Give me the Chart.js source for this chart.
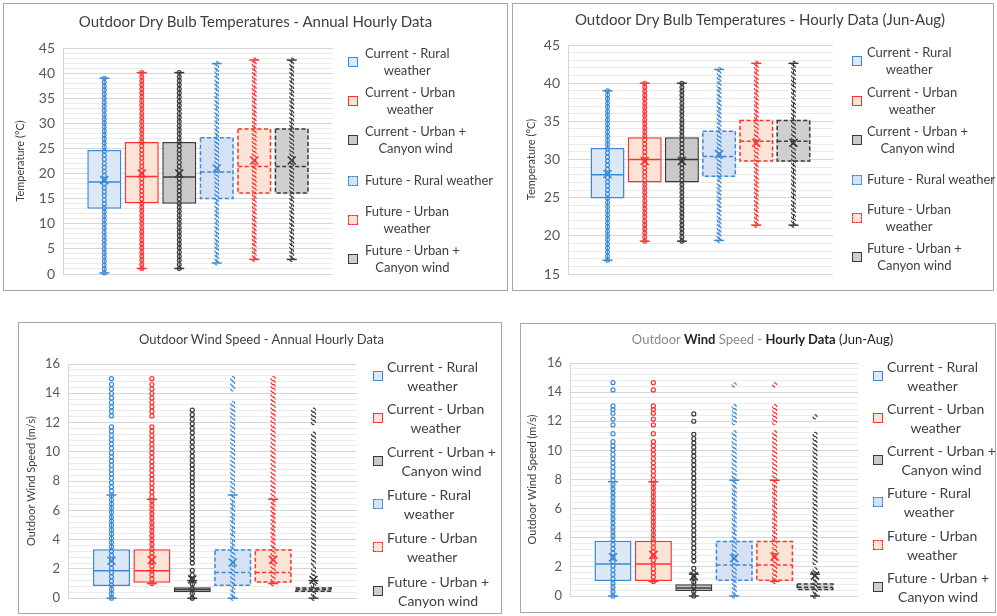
<!DOCTYPE html>
<html><head><meta charset="utf-8">
<script src="https://cdn.jsdelivr.net/npm/chart.js@4/dist/chart.umd.min.js"></script>
<style>
html,body{margin:0;padding:0;background:#fff;width:997px;height:616px;overflow:hidden;font-family:Lato,'Open Sans',sans-serif;}
.panel{position:absolute;border:1px solid #a6a6a6;box-sizing:border-box;background:#fff;}
.panel canvas{position:absolute;left:-1px;top:-1px;}
.ptitle{position:absolute;left:0;width:100%;text-align:center;color:#404040;white-space:nowrap;box-sizing:border-box;}
.leg{position:absolute;display:flex;align-items:center;color:#404040;}
.leg .ic{width:8px;height:8px;border:1.5px solid;flex:none;}
.leg .tx{text-align:center;white-space:pre;}
</style></head><body>

<div class="panel" id="p1" style="left:3px;top:3px;width:505px;height:288px;">
  <canvas id="c1"></canvas>
  <div class="ptitle" style="top:9px;font-size:15px;line-height:17px;">Outdoor Dry Bulb Temperatures - Annual Hourly Data</div>
</div>
<div class="panel" id="p2" style="left:512px;top:3px;width:482px;height:288px;">
  <canvas id="c2"></canvas>
  <div class="ptitle" style="top:7px;font-size:15px;line-height:17px;padding-left:14px;">Outdoor Dry Bulb Temperatures - Hourly Data (Jun-Aug)</div>
</div>
<div class="panel" id="p3" style="left:18px;top:322px;width:484px;height:292px;">
  <canvas id="c3"></canvas>
  <div class="ptitle" style="top:8px;font-size:13px;line-height:16px;padding-left:3px;">Outdoor Wind Speed - Annual Hourly Data</div>
</div>
<div class="panel" id="p4" style="left:520px;top:323px;width:476px;height:290px;">
  <canvas id="c4"></canvas>
  <div class="ptitle" style="top:7px;font-size:13px;line-height:16px;padding-left:9px;"><span style="color:#8a8a8a">Outdoor </span><b style="color:#262626">Wind</b><span style="color:#8a8a8a"> Speed - </span><b style="color:#262626">Hourly Data</b><span style="color:#262626"> (Jun-Aug)</span></div>
</div>

<script>
// ---------------- DATA ----------------
const seriesNames = ['Current - Rural weather','Current - Urban weather','Current - Urban + Canyon wind','Future - Rural weather','Future - Urban weather','Future - Urban + Canyon wind'];
const legendLabelsTop = ['Current - Rural\nweather','Current - Urban\nweather','Current - Urban +\nCanyon wind','Future - Rural weather','Future - Urban\nweather','Future - Urban +\nCanyon wind'];
const legendLabelsBottom = ['Current - Rural\nweather','Current - Urban\nweather','Current - Urban +\nCanyon wind','Future - Rural\nweather','Future - Urban\nweather','Future - Urban +\nCanyon wind'];

// Outdoor dry bulb temperature, annual hourly data (°C)
const tAnnQ1   = [13.0, 14.1, 14.0, 14.9, 16.0, 16.0];
const tAnnMed  = [18.3, 19.4, 19.3, 20.3, 21.4, 21.4];
const tAnnQ3   = [24.7, 26.3, 26.3, 27.3, 29.0, 29.0];
const tAnnMean = [18.7, 20.0, 20.0, 21.0, 22.6, 22.6];
const tAnnMin  = [0.2, 1.1, 1.1, 2.2, 2.9, 2.9];
const tAnnMax  = [39.0, 40.1, 40.1, 41.9, 42.6, 42.6];

// Outdoor dry bulb temperature, hourly data Jun-Aug (°C)
const tJjaQ1   = [24.9, 27.0, 27.0, 27.7, 29.7, 29.7];
const tJjaMed  = [28.0, 30.0, 30.0, 30.4, 32.4, 32.4];
const tJjaQ3   = [31.5, 32.9, 32.9, 33.8, 35.2, 35.2];
const tJjaMean = [28.1, 29.8, 29.8, 30.7, 32.2, 32.2];
const tJjaMin  = [16.8, 19.3, 19.3, 19.4, 21.4, 21.4];
const tJjaMax  = [39.0, 40.0, 40.0, 41.8, 42.6, 42.6];

// Outdoor wind speed, annual hourly data (m/s)
const wAnnQ1   = [0.83, 1.05, 0.42, 0.83, 1.05, 0.42];
const wAnnMed  = [1.88, 1.88, 0.60, 1.76, 1.76, 0.60];
const wAnnQ3   = [3.34, 3.34, 0.75, 3.34, 3.34, 0.75];
const wAnnMean = [2.56, 2.60, 1.29, 2.44, 2.62, 1.24];
const wAnnLo   = [0.0, 1.0, 0.0, 0.0, 1.0, 0.0];
const wAnnHi   = [7.05, 6.76, 1.2, 7.05, 6.76, 1.2];
// observed value ranges where hourly points are stacked
const wAnnPoints = [
  [[0, 11.7], [12.45, 14.6], [15.0, 15.0]],
  [[1.0, 11.7], [12.45, 14.6], [15.0, 15.0]],
  [[0, 1.9], [2.4, 9.4], [9.7, 11.3], [11.6, 12.85]],
  [[0, 13.3], [14.3, 15.0]],
  [[1.0, 13.9], [14.2, 15.0]],
  [[0, 2.0], [2.4, 11.2], [12.0, 12.85]]
];

// Outdoor wind speed, hourly data Jun-Aug (m/s)
const wJjaQ1   = [1.03, 1.03, 0.34, 1.03, 1.03, 0.39];
const wJjaMed  = [2.20, 2.20, 0.55, 2.13, 2.13, 0.60];
const wJjaQ3   = [3.80, 3.80, 0.80, 3.80, 3.80, 0.87];
const wJjaMean = [2.66, 2.82, 1.35, 2.60, 2.70, 1.40];
const wJjaLo   = [0.0, 1.0, 0.0, 0.0, 1.0, 0.0];
const wJjaHi   = [7.85, 7.85, 1.5, 7.95, 7.95, 1.5];
const wJjaPoints = [
  [[0, 10.6], [11.15, 11.15], [11.75, 11.75], [12.15, 12.15], [12.55, 13.05], [14.15, 14.15], [14.65, 14.65]],
  [[1.0, 10.6], [11.15, 11.15], [11.75, 11.75], [12.15, 12.15], [12.55, 13.05], [14.15, 14.15], [14.65, 14.65]],
  [[0, 1.9], [2.4, 11.1], [12.0, 12.0], [12.5, 12.5]],
  [[0, 11.2], [11.9, 13.0], [14.5, 14.6]],
  [[1.0, 11.2], [11.9, 13.0], [14.5, 14.6]],
  [[0, 1.8], [2.3, 11.1], [12.3, 12.3]]
];

// ---------------- STYLE ----------------
const strokes = ['#3a8ad6', '#ff3030', '#3a3a3a', '#3a8ad6', '#ff3030', '#3a3a3a'];
const fills   = ['#dce8f6', '#fbe3d6', '#c9c9c9', '#d6e2f3', '#fbe3d6', '#cfcfcf'];
const future  = [false, false, false, true, true, true];

function boxPlugin(st) {
  return {
    id: 'boxDecor',
    afterDatasetsDraw(chart) {
      const ctx = chart.ctx, y = chart.scales.y;
      const py = v => y.getPixelForValue(v);
      ctx.save();
      chart.data.datasets.forEach((ds, i) => {
        const bar = chart.getDatasetMeta(i).data[0];
        const x = bar.x, w = bar.width;
        const col = strokes[i], dashed = future[i];
        ctx.strokeStyle = col;
        // dashed box outline for future series
        ctx.lineWidth = 1.5;
        if (dashed) {
          ctx.setLineDash([4, 2.5]);
          const top = py(st.q3[i]), bot = py(st.q1[i]);
          ctx.strokeRect(x - w / 2 + 0.75, top + 0.75, w - 1.5, bot - top - 1.5);
        }
        // median
        ctx.beginPath();
        ctx.moveTo(x - w / 2 + 1, py(st.med[i]));
        ctx.lineTo(x + w / 2 - 1, py(st.med[i]));
        ctx.stroke();
        // whiskers
        ctx.lineWidth = 1;
        ctx.beginPath();
        ctx.moveTo(x, py(st.lo[i])); ctx.lineTo(x, py(st.q1[i]));
        ctx.moveTo(x, py(st.q3[i])); ctx.lineTo(x, py(st.hi[i]));
        ctx.stroke();
        ctx.setLineDash([]);
        // points (stacked hourly values)
        const r = st.r, stepPx = 2 * r + 0.3;
        ctx.lineWidth = 1.2;
        st.runs[i].forEach(([a, b]) => {
          const ya = py(a), yb = py(b);
          const n = Math.max(0, Math.round((ya - yb) / stepPx));
          for (let k = 0; k <= n; k++) {
            const yy = n ? ya + (yb - ya) * k / n : ya;
            ctx.beginPath();
            if (dashed) {
              ctx.arc(x, yy, r, -Math.PI / 2 - 0.35, 0.15);
              ctx.moveTo(x + r * Math.cos(Math.PI / 2 - 0.35), yy + r * Math.sin(Math.PI / 2 - 0.35));
              ctx.arc(x, yy, r, Math.PI / 2 - 0.35, Math.PI + 0.15);
            } else {
              ctx.arc(x, yy, r, 0, Math.PI * 2);
            }
            ctx.stroke();
          }
        });
        // caps
        ctx.lineWidth = 1.5;
        [st.lo[i], st.hi[i]].forEach(v => {
          ctx.beginPath();
          ctx.moveTo(x - 5, py(v)); ctx.lineTo(x + 5, py(v));
          ctx.stroke();
        });
        // mean marker
        const my = py(st.mean[i]), s = 4;
        ctx.lineWidth = 1.6;
        ctx.beginPath();
        ctx.moveTo(x - s, my - s); ctx.lineTo(x + s, my + s);
        ctx.moveTo(x + s, my - s); ctx.lineTo(x - s, my + s);
        ctx.stroke();
      });
      ctx.restore();
    }
  };
}

function makeChart(o) {
  const canvas = document.getElementById(o.id);
  canvas.width = o.w; canvas.height = o.h;
  const isMajor = v => Math.abs(v / o.step - Math.round(v / o.step)) < 1e-6;
  new Chart(canvas, {
    type: 'bar',
    data: {
      labels: [''],
      datasets: seriesNames.map((n, i) => ({
        label: n,
        yAxisID: 'y',
        data: [[o.st.q1[i], o.st.q3[i]]],
        backgroundColor: fills[i],
        borderColor: future[i] ? 'rgba(0,0,0,0)' : strokes[i],
        borderWidth: future[i] ? 0 : 1.5,
        borderSkipped: false,
        categoryPercentage: o.catPct,
        barPercentage: o.barPct
      }))
    },
    options: {
      responsive: false, animation: false, events: [],
      layout: { padding: { left: 0, right: o.padR, top: o.padT, bottom: o.padB } },
      plugins: { legend: { display: false }, tooltip: { enabled: false }, title: { display: false } },
      scales: {
        x: { display: false },
        y: {
          position: 'left', min: o.min, max: o.max,
          ticks: { stepSize: o.step, padding: 8, color: '#595959', font: { family: 'Lato', size: o.tickSize }, maxTicksLimit: 100 },
          grid: { color: '#d6d6d6', drawTicks: false },
          border: { display: true, color: '#d6d6d6' },
          title: { display: true, text: o.yTitle, color: '#404040', font: { family: 'Lato', size: 11 }, padding: { top: o.titlePad, bottom: 0 } },
          afterFit: s => { s.width = o.padL; }
        },
        yMinor: {
          position: 'left', min: o.min, max: o.max,
          ticks: { display: false, stepSize: o.minor, maxTicksLimit: 200, font: { size: 1 } },
          grid: { drawTicks: false, color: c => isMajor(c.tick.value) ? 'rgba(0,0,0,0)' : '#ebebeb' },
          border: { display: false },
          afterFit: s => { s.width = 0; }
        }
      }
    },
    plugins: [boxPlugin(o.st)]
  });
}

const runsFromRange = (lo, hi) => lo.map((v, i) => [[v, hi[i]]]);

makeChart({ id: 'c1', w: 505, h: 288, padL: 60, padR: 175, padT: 45, padB: 17, min: 0, max: 45, step: 5, minor: 1,
  tickSize: 14, yTitle: 'Temperature (°C)', titlePad: 11, catPct: 0.833, barPct: 0.907,
  st: { q1: tAnnQ1, med: tAnnMed, q3: tAnnQ3, mean: tAnnMean, lo: tAnnMin, hi: tAnnMax, runs: runsFromRange(tAnnMin, tAnnMax), r: 1.9 } });
makeChart({ id: 'c2', w: 482, h: 288, padL: 56, padR: 161, padT: 42, padB: 17, min: 15, max: 45, step: 5, minor: 1,
  tickSize: 14, yTitle: 'Temperature (°C)', titlePad: 13, catPct: 0.842, barPct: 0.914,
  st: { q1: tJjaQ1, med: tJjaMed, q3: tJjaQ3, mean: tJjaMean, lo: tJjaMin, hi: tJjaMax, runs: runsFromRange(tJjaMin, tJjaMax), r: 1.9 } });
makeChart({ id: 'c3', w: 484, h: 292, padL: 50, padR: 145, padT: 42, padB: 14, min: 0, max: 16, step: 2, minor: 0.4,
  tickSize: 13, yTitle: 'Outdoor Wind Speed (m/s)', titlePad: 7, catPct: 0.839, barPct: 0.916,
  st: { q1: wAnnQ1, med: wAnnMed, q3: wAnnQ3, mean: wAnnMean, lo: wAnnLo, hi: wAnnHi, runs: wAnnPoints, r: 2.0 } });
makeChart({ id: 'c4', w: 476, h: 290, padL: 50, padR: 138, padT: 40, padB: 17, min: 0, max: 16, step: 2, minor: 0.4,
  tickSize: 13, yTitle: 'Outdoor Wind Speed (m/s)', titlePad: 6, catPct: 0.842, barPct: 0.916,
  st: { q1: wJjaQ1, med: wJjaMed, q3: wJjaQ3, mean: wJjaMean, lo: wJjaLo, hi: wJjaHi, runs: wJjaPoints, r: 2.0 } });

// ---------------- LEGENDS ----------------
function makeLegend(panelId, labels, lay) {
  const p = document.getElementById(panelId);
  labels.forEach((t, i) => {
    const d = document.createElement('div');
    d.className = 'leg';
    d.style.left = lay.x + 'px';
    d.style.top = lay.tops[i] + 'px';
    d.style.fontSize = lay.font + 'px';
    d.style.lineHeight = lay.lh + 'px';
    const ic = document.createElement('div');
    ic.className = 'ic';
    ic.style.background = fills[i];
    ic.style.borderColor = strokes[i];
    ic.style.borderStyle = (future[i] && i < 5) ? 'dashed' : 'solid';
    ic.style.marginRight = lay.gap + 'px';
    const tx = document.createElement('div');
    tx.className = 'tx';
    tx.textContent = t;
    d.appendChild(ic); d.appendChild(tx);
    p.appendChild(d);
  });
}
makeLegend('p1', legendLabelsTop, { x: 344, gap: 7, font: 13, lh: 17, tops: [41, 80, 119, 168, 199, 238] });
makeLegend('p2', legendLabelsTop, { x: 339, gap: 5, font: 13, lh: 17, tops: [40, 80, 119, 167, 197, 236] });
makeLegend('p3', legendLabelsBottom, { x: 354, gap: 4, font: 14, lh: 19, tops: [34, 76, 119, 162, 205, 249] });
makeLegend('p4', legendLabelsBottom, { x: 352, gap: 4, font: 14, lh: 19, tops: [33, 75, 117, 159, 202, 244] });
</script>
</body></html>
